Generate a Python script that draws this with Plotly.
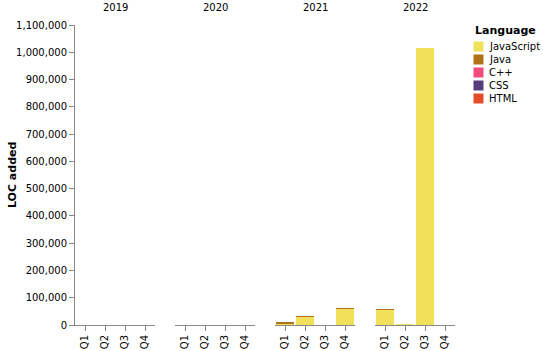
import plotly.graph_objects as go

years = ["2019", "2020", "2021", "2022"]
quarters = ["Q1", "Q2", "Q3", "Q4"]
languages = ["JavaScript", "Java", "C++", "CSS", "HTML"]
colors = ["#f1e05a", "#b07219", "#f34b7d", "#563d7c", "#e34c26"]

# LOC added per language, per year, per quarter
loc = {
    "JavaScript": {"2019": [0, 0, 0, 0], "2020": [0, 0, 0, 0],
                   "2021": [7000, 30000, 0, 61000], "2022": [58000, 2000, 1015000, 0]},
    "Java": {"2019": [0, 0, 0, 0], "2020": [0, 0, 0, 0],
             "2021": [1500, 2500, 0, 1000], "2022": [300, 0, 0, 0]},
    "C++": {"2019": [0, 0, 0, 0], "2020": [0, 0, 0, 0],
            "2021": [0, 0, 0, 0], "2022": [0, 0, 0, 0]},
    "CSS": {"2019": [0, 0, 0, 0], "2020": [0, 0, 0, 0],
            "2021": [0, 0, 0, 0], "2022": [0, 0, 0, 0]},
    "HTML": {"2019": [0, 0, 0, 0], "2020": [0, 0, 0, 0],
             "2021": [0, 0, 0, 0], "2022": [0, 0, 0, 0]},
}
y_ticks = list(range(0, 1100001, 100000))

W, H = 543, 351
L, R, T, B = 75, 88, 25, 26
pw = W - L - R
ph = H - T - B
FONT = "DejaVu Sans, sans-serif"

def px_x(px):
    return (px - L) / pw

def px_y(py):
    return (H - B - py) / ph

fig = go.Figure()
domains = []
for i, yr in enumerate(years):
    x0 = i * 100
    domains.append([px_x(L + x0), px_x(L + x0 + 80)])

for i, yr in enumerate(years):
    xa = "x" if i == 0 else f"x{i+1}"
    for lang, col in zip(languages, colors):
        fig.add_trace(go.Bar(
            x=quarters, y=loc[lang][yr], name=lang, marker_color=col,
            marker_line_width=0, xaxis=xa, yaxis="y", showlegend=False,
            hovertemplate=f"{lang}<br>{yr} %{{x}}: %{{y:,}}<extra></extra>",
        ))

axis_common = dict(
    type="category", categoryorder="array", categoryarray=quarters,
    range=[-0.5, 3.5], showline=True, linecolor="#888", linewidth=1,
    ticks="outside", ticklen=5, tickcolor="#888", tickangle=-90,
    showgrid=False, zeroline=False, automargin=False,
    tickfont=dict(family=FONT, size=10, color="#000"), fixedrange=True,
)
layout_axes = {}
for i in range(4):
    key = "xaxis" if i == 0 else f"xaxis{i+1}"
    layout_axes[key] = dict(axis_common, domain=domains[i], anchor="y")

annotations = []
for i, yr in enumerate(years):
    annotations.append(dict(
        text=yr, x=(domains[i][0] + domains[i][1]) / 2, y=1, xref="paper", yref="paper",
        xanchor="center", yanchor="bottom", yshift=10, showarrow=False,
        font=dict(family=FONT, size=10, color="#000"),
    ))
annotations.append(dict(
    text="<b>LOC added</b>", x=0, y=0.5, xref="paper", yref="paper",
    xanchor="center", yanchor="middle", xshift=-63, textangle=-90, showarrow=False,
    font=dict(family=FONT, size=11, color="#000"),
))
# legend (drawn manually to match compact spacing)
annotations.append(dict(
    text="<b>Language</b>", x=px_x(473), y=px_y(30), xref="paper", yref="paper",
    xanchor="left", yanchor="middle", showarrow=False,
    font=dict(family=FONT, size=11, color="#000"),
))
shapes = []
for k, (lang, col) in enumerate(zip(languages, colors)):
    cy = 46.5 + 13 * k
    shapes.append(dict(
        type="rect", xref="paper", yref="paper",
        x0=px_x(473.5), x1=px_x(483.5), y0=px_y(cy - 5), y1=px_y(cy + 5),
        fillcolor=col, line=dict(width=0),
    ))
    annotations.append(dict(
        text=lang, x=px_x(487), y=px_y(cy), xref="paper", yref="paper",
        xanchor="left", yanchor="middle", showarrow=False,
        font=dict(family=FONT, size=10, color="#000"),
    ))

fig.update_layout(
    width=W, height=H, margin=dict(l=L, r=R, t=T, b=B, pad=0, autoexpand=False),
    barmode="stack", bargap=0.1, plot_bgcolor="white", paper_bgcolor="white",
    showlegend=False,
    yaxis=dict(
        range=[0, 1100000], tickvals=y_ticks, tickformat=",", showline=True,
        linecolor="#888", linewidth=1, ticks="outside", ticklen=5, tickcolor="#888",
        showgrid=False, zeroline=False, domain=[0, 1], anchor="x", automargin=False,
        tickfont=dict(family=FONT, size=10, color="#000"), fixedrange=True,
    ),
    annotations=annotations, shapes=shapes,
    **layout_axes,
)

fig.write_html("out.html", config={"displayModeBar": False})
